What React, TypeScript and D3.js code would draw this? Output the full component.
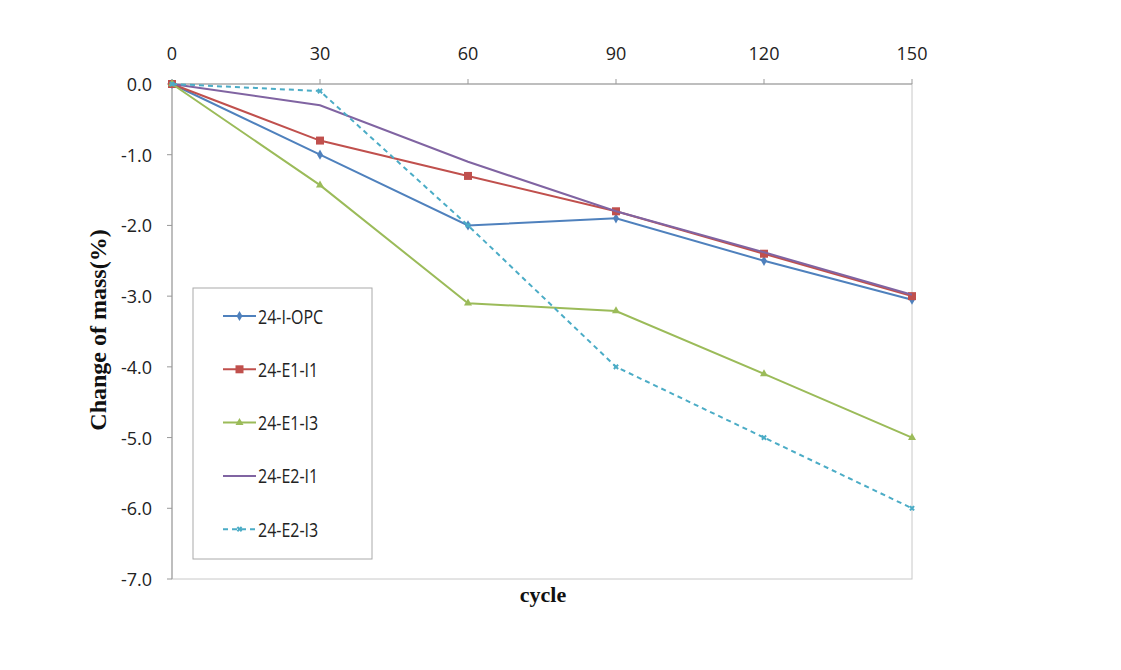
import React from "react";
import * as d3 from "d3";

const cycles = [0, 30, 60, 90, 120, 150];
const xTicks = [0, 30, 60, 90, 120, 150];
const yTicks = [0, -1, -2, -3, -4, -5, -6, -7];
const seriesNames = ["24-I-OPC", "24-E1-I1", "24-E1-I3", "24-E2-I1", "24-E2-I3"];
const opc = [0, -1.0, -2.0, -1.9, -2.5, -3.05];
const e1i1 = [0, -0.8, -1.3, -1.8, -2.4, -3.0];
const e1i3 = [0, -1.43, -3.1, -3.21, -4.1, -5.0];
const e2i1 = [0, -0.3, -1.1, -1.8, -2.38, -2.98];
const e2i3 = [0, -0.1, -2.0, -4.0, -5.0, -6.0];
const seriesValues = [opc, e1i1, e1i3, e2i1, e2i3];
const colors = ["#4F81BD", "#C0504D", "#9BBB59", "#8064A2", "#4BACC6"];
const markers = ["diamond", "square", "triangle", "none", "x"];
const dashes = [null, null, null, null, "5,4"];

const W = 1121, H = 670;
const left = 172, right = 912, top = 84, bottom = 579;

function Marker({ type, x, y, color }: { type: string; x: number; y: number; color: string }) {
  if (type === "diamond") return <path d={d3.symbol(d3.symbolDiamond, 30)()!} transform={`translate(${x},${y})`} fill={color} />;
  if (type === "square") return <rect x={x - 4} y={y - 4} width={8} height={8} fill={color} />;
  if (type === "triangle") return <path d={d3.symbol(d3.symbolTriangle, 28)()!} transform={`translate(${x},${y})`} fill={color} />;
  if (type === "x") return <path d={d3.symbol(d3.symbolCross, 20)()!} transform={`translate(${x},${y}) rotate(45)`} fill={color} />;
  return null;
}

export default function App() {
  const x = d3.scaleLinear().domain([0, 150]).range([left, right]);
  const y = d3.scaleLinear().domain([0, -7]).range([top, bottom]);
  const line = d3.line<number>().x((_, i) => x(cycles[i])).y((d) => y(d));
  const font = "'Open Sans', 'Liberation Sans', sans-serif";
  const serif = "'Liberation Serif', 'DejaVu Serif', serif";
  const legendX = 193, legendY = 288, legendW = 179, legendH = 271;
  return (
    <svg width={W} height={H} style={{ position: "absolute", left: 0, top: 0, background: "#fff" }}>
      <rect x={left} y={top} width={right - left} height={bottom - top} fill="none" stroke="#c8c8c8" strokeWidth={1} />
      <line x1={left} x2={left} y1={top} y2={bottom} stroke="#999" />
      <line x1={left} x2={right} y1={top} y2={top} stroke="#999" />
      {xTicks.map((t) => (
        <g key={"x" + t}>
          <line x1={x(t)} x2={x(t)} y1={top} y2={top - 5} stroke="#999" />
          <text x={x(t)} y={60} textAnchor="middle" fontFamily={font} fontSize={18} fill="#222">{t}</text>
        </g>
      ))}
      {yTicks.map((t) => (
        <g key={"y" + t}>
          <line x1={left - 5} x2={left} y1={y(t)} y2={y(t)} stroke="#999" />
          <text x={152} y={y(t) + 7} textAnchor="end" fontFamily={font} fontSize={18} fill="#222">{t === 0 ? "0.0" : t.toFixed(1)}</text>
        </g>
      ))}
      <text transform={`translate(106,330) rotate(-90)`} textAnchor="middle" fontFamily={serif} fontWeight="bold" fontSize={24} fill="#111">Change of mass(%)</text>
      <text x={543} y={602} textAnchor="middle" fontFamily={serif} fontWeight="bold" fontSize={22} fill="#111">cycle</text>
      {seriesValues.map((vals, si) => (
        <g key={"s" + si}>
          <path d={line(vals)!} fill="none" stroke={colors[si]} strokeWidth={2} strokeDasharray={dashes[si] ?? undefined} />
          {vals.map((v, i) => (
            <Marker key={i} type={markers[si]} x={x(cycles[i])} y={y(v)} color={colors[si]} />
          ))}
        </g>
      ))}
      <rect x={legendX} y={legendY} width={legendW} height={legendH} fill="#fff" stroke="#aaa" />
      {seriesNames.map((n, i) => {
        const ly = 316 + i * 53.3;
        return (
          <g key={n}>
            <line x1={223} x2={256} y1={ly} y2={ly} stroke={colors[i]} strokeWidth={2} strokeDasharray={dashes[i] ?? undefined} />
            <Marker type={markers[i]} x={239.5} y={ly} color={colors[i]} />
            <text transform={`translate(258,${ly + 7.5}) scale(1,1.3)`} fontFamily={font} fontSize={16} fill="#222">{n}</text>
          </g>
        );
      })}
    </svg>
  );
}
